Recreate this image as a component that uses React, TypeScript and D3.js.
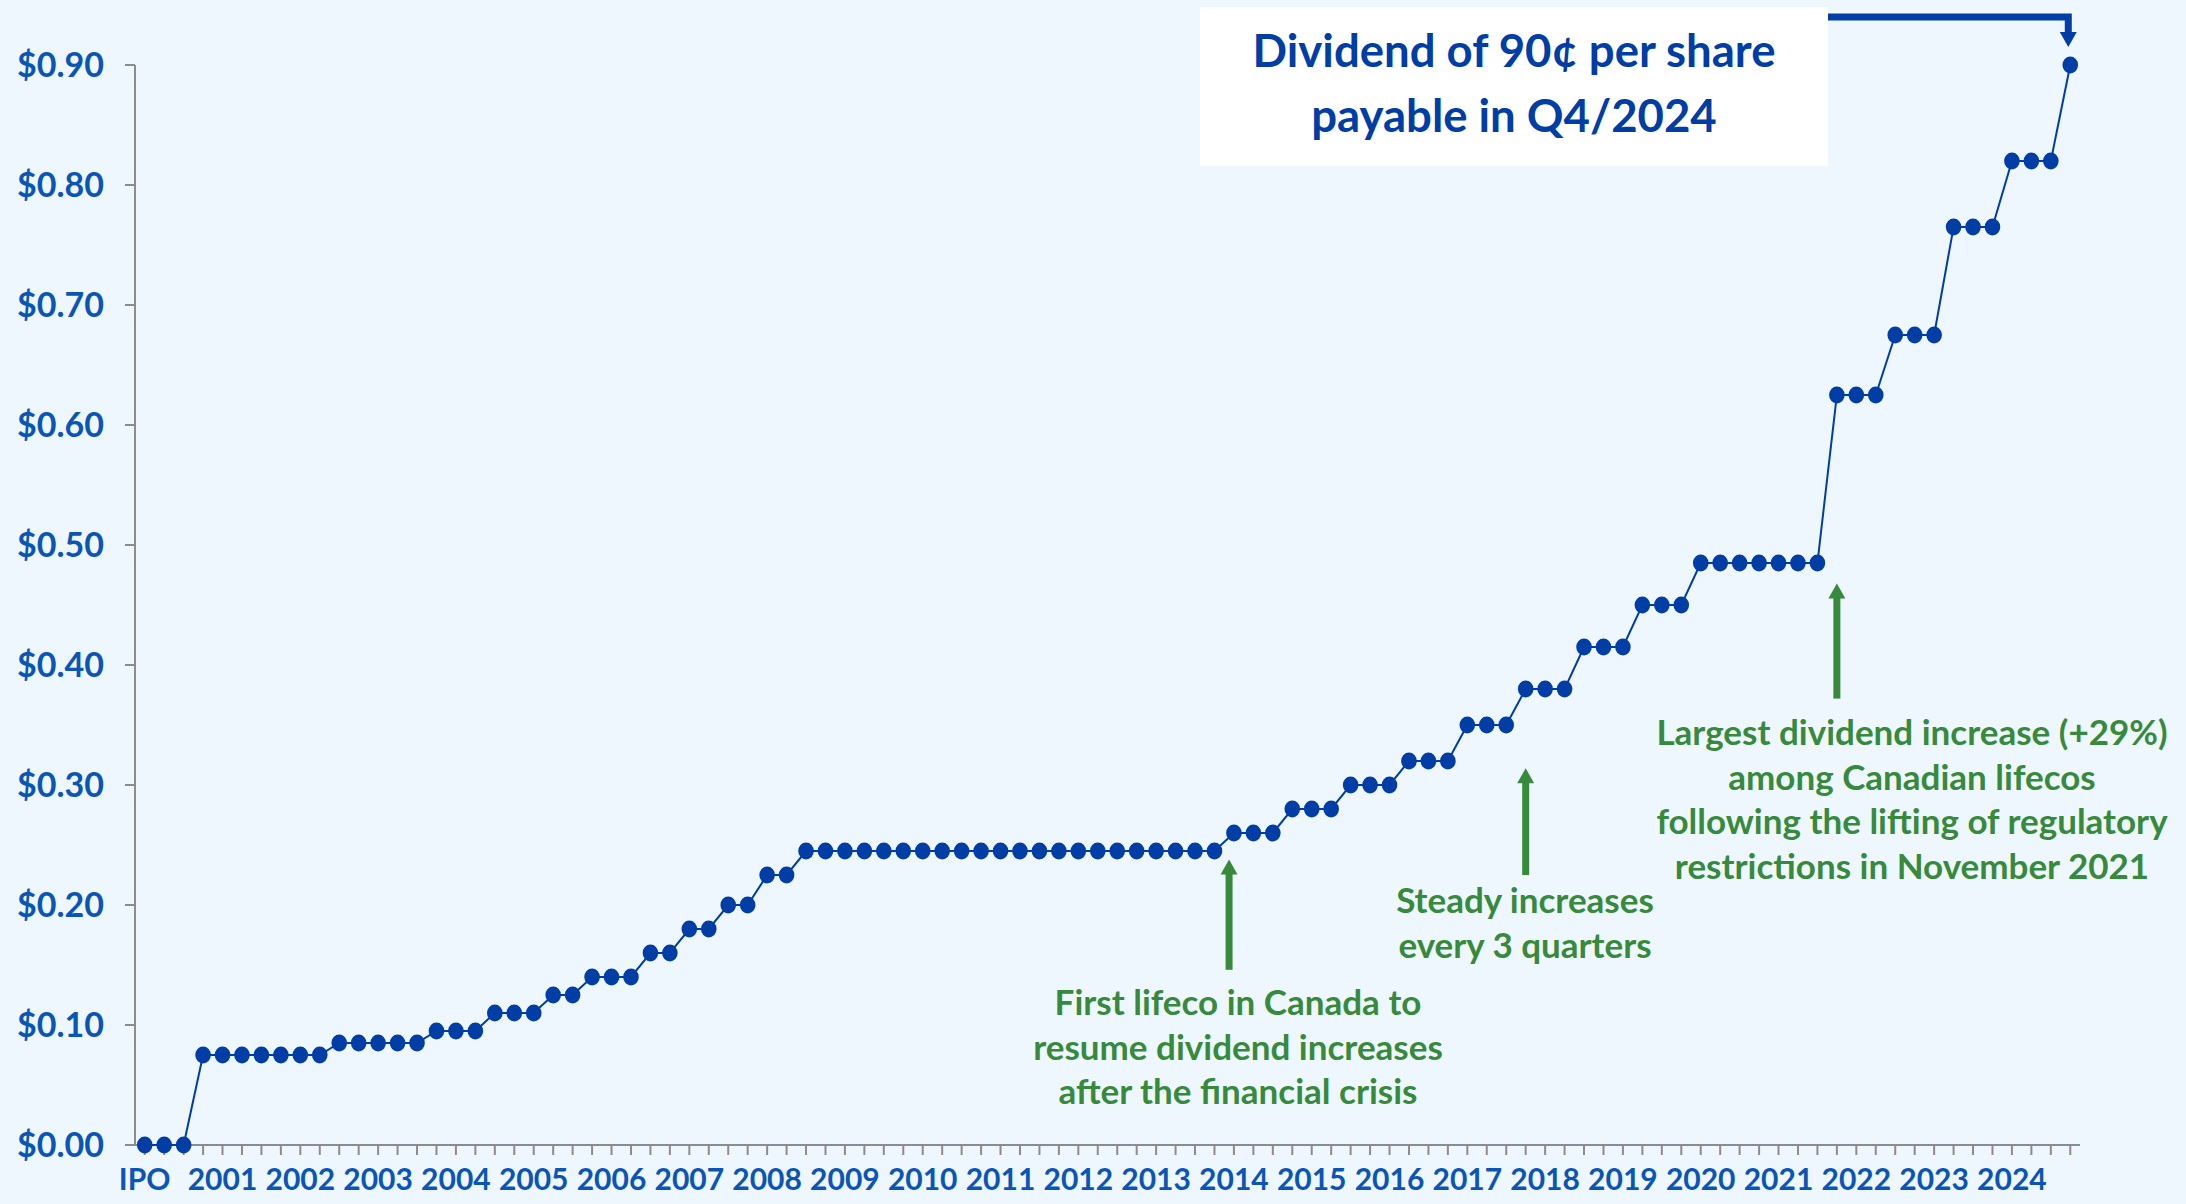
import React from 'react'
import * as d3 from 'd3'

// quarterly dividend per share, IPO (2000) to Q4/2024
const dividends = [
  0, 0, 0,
  0.075, 0.075, 0.075, 0.075, 0.075, 0.075, 0.075,
  0.085, 0.085, 0.085, 0.085, 0.085,
  0.095, 0.095, 0.095,
  0.11, 0.11, 0.11,
  0.125, 0.125,
  0.14, 0.14, 0.14,
  0.16, 0.16,
  0.18, 0.18,
  0.2, 0.2,
  0.225, 0.225,
  0.245, 0.245, 0.245, 0.245, 0.245, 0.245, 0.245, 0.245, 0.245, 0.245, 0.245,
  0.245, 0.245, 0.245, 0.245, 0.245, 0.245, 0.245, 0.245, 0.245, 0.245, 0.245,
  0.26, 0.26, 0.26,
  0.28, 0.28, 0.28,
  0.3, 0.3, 0.3,
  0.32, 0.32, 0.32,
  0.35, 0.35, 0.35,
  0.38, 0.38, 0.38,
  0.415, 0.415, 0.415,
  0.45, 0.45, 0.45,
  0.485, 0.485, 0.485, 0.485, 0.485, 0.485, 0.485,
  0.625, 0.625, 0.625,
  0.675, 0.675, 0.675,
  0.765, 0.765, 0.765,
  0.82, 0.82, 0.82,
  0.9,
]

// one label every 4 quarters
const yearLabels = [
  'IPO', '2001', '2002', '2003', '2004', '2005', '2006', '2007', '2008',
  '2009', '2010', '2011', '2012', '2013', '2014', '2015', '2016', '2017',
  '2018', '2019', '2020', '2021', '2022', '2023', '2024',
]

const yTicks = [0, 0.1, 0.2, 0.3, 0.4, 0.5, 0.6, 0.7, 0.8, 0.9]

const titleLines = ['Dividend of 90¢ per share', 'payable in Q4/2024']

const annotations = [
  { at: 55.75, tip: 0.238, tail: 0.146, lines: ['First lifeco in Canada to', 'resume dividend increases', 'after the financial crisis'], textX: 1238, firstBaseline: 1015 },
  { at: 71, tip: 0.314, tail: 0.225, lines: ['Steady increases', 'every 3 quarters'], textX: 1525, firstBaseline: 913 },
  { at: 87, tip: 0.468, tail: 0.372, lines: ['Largest dividend increase (+29%)', 'among Canadian lifecos', 'following the lifting of regulatory', 'restrictions in November 2021'], textX: 1912, firstBaseline: 745 },
]

const W = 2186
const H = 1204
const FONT = 'Lato, "Open Sans", sans-serif'
const BLUE = '#003DA5'
const LABEL_BLUE = '#0B55B5'
const GREEN = '#378A3C'
const AXIS = '#8C8C8C'

export default function App() {
  const left = 135
  const right = 2080
  const y0 = 1145

  const x = d3.scaleLinear().domain([-0.5, dividends.length - 0.5]).range([left, right])
  const y = d3.scaleLinear().domain([0, 0.9]).range([y0, 65])

  const line = d3.line<number>().x((_, i) => x(i)).y(d => y(d))

  const last = dividends.length - 1
  const lastX = x(last) - 2

  return (
    <svg width={W} height={H} style={{ position: 'absolute', left: 0, top: 0, fontFamily: FONT }}>
      <rect width={W} height={H} fill="#EEF6FE" />

      {/* y axis */}
      <line x1={left} x2={left} y1={y(0.9)} y2={y0} stroke={AXIS} strokeWidth={2} />
      {yTicks.map(t => (
        <g key={t}>
          <line x1={left - 10} x2={left} y1={y(t)} y2={y(t)} stroke={AXIS} strokeWidth={2} />
          <text x={104} y={y(t)} dy="0.36em" textAnchor="end" fontSize={34} fontWeight={700} fill={LABEL_BLUE}>
            {d3.format('$.2f')(t)}
          </text>
        </g>
      ))}

      {/* x axis */}
      <line x1={left} x2={right} y1={y0} y2={y0} stroke={AXIS} strokeWidth={2} />
      {dividends.map((_, i) => (
        <line key={i} x1={x(i)} x2={x(i)} y1={y0} y2={y0 + 10} stroke={AXIS} strokeWidth={2} />
      ))}
      {yearLabels.map((lab, k) => (
        <text key={lab} x={x(k * 4)} y={1190} textAnchor="middle" fontSize={30} fontWeight={700} fill={LABEL_BLUE}>
          {lab}
        </text>
      ))}

      {/* series */}
      <path d={line(dividends) || ''} fill="none" stroke={BLUE} strokeWidth={2} />
      {dividends.map((d, i) => (
        <ellipse key={i} cx={x(i)} cy={y(d)} rx={7.8} ry={8.5} fill={BLUE} />
      ))}

      {/* green annotations */}
      {annotations.map((a, k) => {
        const ax = x(a.at)
        const top = y(a.tip)
        const bottom = y(a.tail)
        return (
          <g key={k}>
            <line x1={ax} x2={ax} y1={top + 13} y2={bottom} stroke={GREEN} strokeWidth={7} />
            <polygon points={`${ax - 8.5},${top + 15} ${ax + 8.5},${top + 15} ${ax},${top}`} fill={GREEN} />
            {a.lines.map((t, j) => (
              <text key={j} x={a.textX} y={a.firstBaseline + j * 44.5} textAnchor="middle" fontSize={35} fontWeight={700} fill={GREEN}>
                {t}
              </text>
            ))}
          </g>
        )
      })}

      {/* title box */}
      <rect x={1200} y={7} width={628} height={159} fill="#FFFFFF" />
      {titleLines.map((t, j) => (
        <text key={j} x={1514} y={67 + j * 65} textAnchor="middle" fontSize={45.5} fontWeight={700} fill={BLUE}>
          {t}
        </text>
      ))}
      <path d={`M1828,17 H${lastX} V34`} fill="none" stroke={BLUE} strokeWidth={7} />
      <polygon points={`${lastX - 8.5},32 ${lastX + 8.5},32 ${lastX},47`} fill={BLUE} />
    </svg>
  )
}
